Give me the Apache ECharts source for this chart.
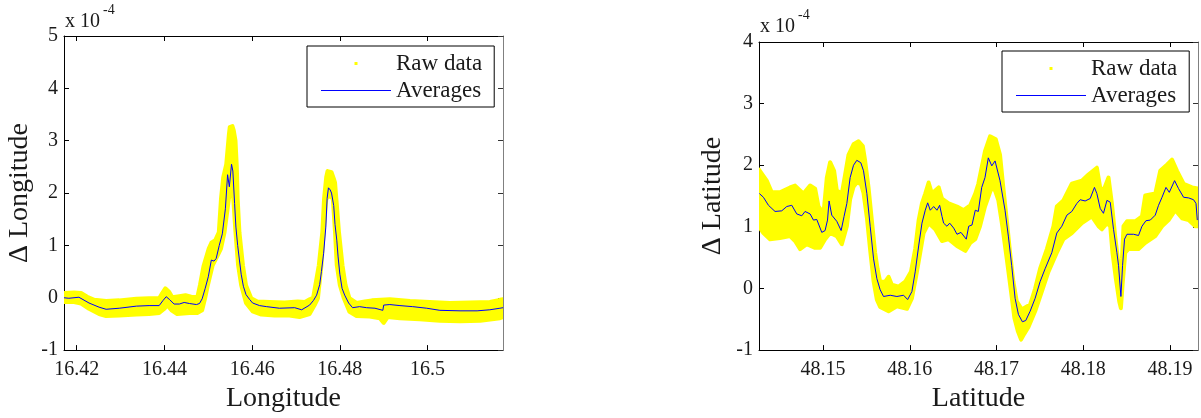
<!DOCTYPE html>
<html>
<head>
<meta charset="utf-8">
<script src="https://cdn.jsdelivr.net/npm/echarts@6/dist/echarts.min.js"></script>
<style>
  html, body { margin: 0; padding: 0; background: #fff; }
  #chart { width: 1201px; height: 418px; }
</style>
</head>
<body>
<div id="chart"></div>
<script>
// ---- Longitude panel (values of the deltas in units of 1e-4) ----
const lonTicks = [16.42, 16.44, 16.46, 16.48, 16.5];
const lonRange = [16.4171, 16.5172];
const lonDeltaRange = [-1, 5];

// running average of the longitude deltas: [longitude, delta]
const lonAverages = [
  [16.4171, 0.00], [16.4182, -0.01], [16.4205, 0.01], [16.4228, -0.10], [16.4251, -0.18],
  [16.4267, -0.22], [16.4297, -0.20], [16.4336, -0.16], [16.4365, -0.15], [16.4388, -0.15],
  [16.4397, -0.05], [16.4404, 0.02], [16.4411, -0.03], [16.4422, -0.12], [16.4434, -0.12],
  [16.4445, -0.09], [16.4457, -0.11], [16.4473, -0.13], [16.4480, -0.11], [16.4486, -0.02],
  [16.4493, 0.18], [16.4500, 0.40], [16.4507, 0.72], [16.4513, 0.70], [16.4518, 0.75],
  [16.4525, 1.00], [16.4532, 1.22], [16.4539, 1.70], [16.4544, 2.35], [16.4548, 2.12],
  [16.4553, 2.55], [16.4556, 2.42], [16.4560, 1.80], [16.4563, 1.35], [16.4567, 1.00],
  [16.4571, 0.72], [16.4575, 0.45], [16.4580, 0.22], [16.4586, 0.06], [16.4594, -0.03],
  [16.4601, -0.10], [16.4617, -0.15], [16.4633, -0.17], [16.4662, -0.20], [16.4697, -0.19],
  [16.4713, -0.23], [16.4731, -0.14], [16.4740, -0.05], [16.4747, 0.05], [16.4754, 0.25],
  [16.4758, 0.50], [16.4763, 0.85], [16.4768, 1.35], [16.4771, 1.90], [16.4774, 2.10],
  [16.4778, 2.06], [16.4781, 2.00], [16.4786, 1.76], [16.4789, 1.40], [16.4793, 1.10],
  [16.4796, 0.78], [16.4800, 0.45], [16.4805, 0.18], [16.4811, 0.05], [16.4820, -0.10],
  [16.4829, -0.19], [16.4845, -0.17], [16.4861, -0.19], [16.4880, -0.20], [16.4898, -0.24],
  [16.4900, -0.14], [16.4914, -0.13], [16.4937, -0.15], [16.4966, -0.17], [16.4998, -0.20],
  [16.5028, -0.24], [16.5074, -0.25], [16.5113, -0.25], [16.5142, -0.23], [16.5165, -0.20],
  [16.5172, -0.19]
];

// upper edge of the raw-data cloud
const lonRawUpper = [
  [16.4171, 0.09], [16.4194, 0.10], [16.4210, 0.09], [16.4224, 0.02], [16.4240, -0.04],
  [16.4267, -0.06], [16.4297, -0.05], [16.4336, -0.02], [16.4365, -0.01], [16.4388, -0.01],
  [16.4395, 0.09], [16.4402, 0.18], [16.4411, 0.11], [16.4418, 0.01], [16.4434, 0.03],
  [16.4448, 0.05], [16.4461, 0.02], [16.4475, 0.01], [16.4481, 0.24], [16.4489, 0.60],
  [16.4501, 0.94], [16.4507, 1.05], [16.4516, 1.10], [16.4524, 1.25], [16.4529, 1.89],
  [16.4534, 2.30], [16.4541, 2.55], [16.4547, 3.12], [16.4549, 3.26], [16.4555, 3.28],
  [16.4558, 3.20], [16.4562, 3.00], [16.4565, 2.50], [16.4567, 1.89], [16.4571, 1.25],
  [16.4579, 0.62], [16.4586, 0.24], [16.4598, -0.01], [16.4612, -0.07], [16.4640, -0.08],
  [16.4674, -0.09], [16.4704, -0.07], [16.4720, -0.08], [16.4731, -0.03], [16.4739, 0.00],
  [16.4752, 0.62], [16.4760, 1.25], [16.4764, 1.89], [16.4769, 2.31], [16.4772, 2.42],
  [16.4781, 2.40], [16.4786, 2.28], [16.4789, 2.20], [16.4792, 1.89], [16.4798, 1.25],
  [16.4806, 0.62], [16.4813, 0.24], [16.4822, -0.01], [16.4838, -0.10], [16.4857, -0.07],
  [16.4873, -0.05], [16.4914, -0.03], [16.4960, -0.06], [16.5005, -0.08], [16.5051, -0.10],
  [16.5097, -0.09], [16.5142, -0.08], [16.5165, -0.04], [16.5172, -0.03]
];

// lower edge of the raw-data cloud
const lonRawLower = [
  [16.4171, -0.08], [16.4194, -0.08], [16.4210, -0.11], [16.4228, -0.21], [16.4251, -0.31],
  [16.4267, -0.35], [16.4297, -0.34], [16.4336, -0.32], [16.4365, -0.31], [16.4388, -0.29],
  [16.4400, -0.21], [16.4406, -0.14], [16.4416, -0.24], [16.4429, -0.31], [16.4457, -0.29],
  [16.4475, -0.29], [16.4486, -0.24], [16.4493, 0.00], [16.4499, 0.24], [16.4510, 0.62],
  [16.4521, 0.80], [16.4529, 0.94], [16.4537, 1.25], [16.4547, 1.89], [16.4550, 2.00],
  [16.4555, 2.10], [16.4557, 1.89], [16.4562, 1.25], [16.4568, 0.62], [16.4575, 0.24],
  [16.4586, -0.10], [16.4601, -0.26], [16.4621, -0.32], [16.4651, -0.34], [16.4685, -0.34],
  [16.4708, -0.37], [16.4731, -0.31], [16.4742, -0.15], [16.4750, -0.01], [16.4758, 0.62],
  [16.4763, 1.25], [16.4769, 1.89], [16.4777, 1.95], [16.4784, 1.89], [16.4789, 1.25],
  [16.4793, 0.62], [16.4800, 0.24], [16.4809, -0.01], [16.4822, -0.27], [16.4838, -0.35],
  [16.4868, -0.36], [16.4891, -0.39], [16.4900, -0.48], [16.4909, -0.37], [16.4937, -0.39],
  [16.4982, -0.41], [16.5028, -0.44], [16.5074, -0.45], [16.5120, -0.44], [16.5165, -0.39],
  [16.5172, -0.37]
];

// ---- Latitude panel ----
const latTicks = [48.15, 48.16, 48.17, 48.18, 48.19];
const latRange = [48.14261, 48.19323];
const latDeltaRange = [-1, 4];

const latAverages = [
  [48.14266, 1.54], [48.14312, 1.48], [48.14370, 1.35], [48.14446, 1.25], [48.14523, 1.26],
  [48.14581, 1.33], [48.14639, 1.35], [48.14696, 1.21], [48.14754, 1.18], [48.14792, 1.25],
  [48.14850, 1.21], [48.14889, 1.11], [48.14927, 1.12], [48.14985, 0.91], [48.15023, 0.94],
  [48.15051, 1.11], [48.15069, 1.42], [48.15100, 1.19], [48.15158, 1.09], [48.15208, 0.94],
  [48.15242, 1.17], [48.15274, 1.38], [48.15312, 1.80], [48.15351, 2.00], [48.15389, 2.08],
  [48.15435, 2.04], [48.15466, 1.91], [48.15505, 1.54], [48.15543, 1.01], [48.15582, 0.48],
  [48.15620, 0.16], [48.15658, -0.02], [48.15697, -0.13], [48.15774, -0.11], [48.15851, -0.13],
  [48.15928, -0.11], [48.15975, -0.18], [48.16024, -0.05], [48.16062, 0.27], [48.16102, 0.69],
  [48.16140, 1.06], [48.16178, 1.27], [48.16206, 1.39], [48.16236, 1.27], [48.16275, 1.33],
  [48.16313, 1.27], [48.16344, 1.35], [48.16371, 1.17], [48.16390, 1.06], [48.16428, 1.01],
  [48.16460, 1.06], [48.16506, 0.98], [48.16544, 0.88], [48.16590, 0.91], [48.16651, 0.80],
  [48.16679, 1.01], [48.16717, 1.03], [48.16755, 1.27], [48.16790, 1.25], [48.16829, 1.64],
  [48.16867, 1.80], [48.16905, 2.12], [48.16945, 1.99], [48.16983, 2.07], [48.17040, 1.75],
  [48.17098, 1.27], [48.17136, 0.85], [48.17175, 0.37], [48.17214, -0.16], [48.17252, -0.42],
  [48.17298, -0.54], [48.17337, -0.52], [48.17387, -0.37], [48.17445, -0.16], [48.17502, 0.11],
  [48.17560, 0.32], [48.17637, 0.58], [48.17695, 0.90], [48.17753, 1.01], [48.17811, 1.19],
  [48.17868, 1.25], [48.17926, 1.38], [48.17964, 1.44], [48.18022, 1.42], [48.18080, 1.46],
  [48.18129, 1.64], [48.18157, 1.54], [48.18195, 1.30], [48.18233, 1.22], [48.18273, 1.43],
  [48.18311, 1.40], [48.18349, 0.96], [48.18388, 0.58], [48.18407, 0.37], [48.18434, -0.13],
  [48.18453, 0.37], [48.18476, 0.80], [48.18504, 0.88], [48.18580, 0.88], [48.18637, 0.86],
  [48.18677, 1.01], [48.18723, 1.10], [48.18773, 1.11], [48.18830, 1.19], [48.18868, 1.35],
  [48.18908, 1.48], [48.18954, 1.64], [48.18992, 1.56], [48.19053, 1.75], [48.19099, 1.62],
  [48.19157, 1.48], [48.19215, 1.47], [48.19272, 1.44], [48.19300, 1.38], [48.19315, 1.11]
];

const latRawUpper = [
  [48.14261, 1.93], [48.14350, 1.75], [48.14408, 1.56], [48.14503, 1.56], [48.14619, 1.64],
  [48.14677, 1.67], [48.14774, 1.54], [48.14850, 1.67], [48.14908, 1.62], [48.14947, 1.33],
  [48.15005, 1.22], [48.15043, 1.80], [48.15081, 2.05], [48.15127, 1.91], [48.15158, 1.59],
  [48.15216, 1.54], [48.15254, 1.85], [48.15293, 2.17], [48.15351, 2.34], [48.15409, 2.39],
  [48.15458, 2.31], [48.15485, 2.07], [48.15524, 1.64], [48.15562, 1.11], [48.15600, 0.58],
  [48.15628, 0.32], [48.15658, 0.11], [48.15716, 0.11], [48.15755, 0.19], [48.15793, 0.06],
  [48.15871, 0.03], [48.15947, 0.11], [48.16013, 0.27], [48.16062, 0.64], [48.16102, 1.11],
  [48.16140, 1.38], [48.16178, 1.54], [48.16217, 1.72], [48.16255, 1.54], [48.16333, 1.64],
  [48.16371, 1.46], [48.16448, 1.38], [48.16544, 1.33], [48.16621, 1.27], [48.16697, 1.35],
  [48.16755, 1.54], [48.16790, 1.70], [48.16867, 2.23], [48.16925, 2.47], [48.16991, 2.42],
  [48.17040, 2.17], [48.17078, 1.64], [48.17118, 1.11], [48.17156, 0.58], [48.17194, 0.11],
  [48.17233, -0.21], [48.17291, -0.34], [48.17387, -0.26], [48.17445, 0.00], [48.17502, 0.32],
  [48.17580, 0.64], [48.17656, 1.01], [48.17695, 1.33], [48.17771, 1.43], [48.17868, 1.70],
  [48.17984, 1.75], [48.18060, 1.85], [48.18157, 1.96], [48.18195, 1.64], [48.18233, 1.59],
  [48.18291, 1.80], [48.18330, 1.38], [48.18368, 0.85], [48.18399, 0.48], [48.18426, 0.11],
  [48.18446, 0.48], [48.18464, 1.01], [48.18504, 1.09], [48.18599, 1.09], [48.18677, 1.17],
  [48.18715, 1.51], [48.18830, 1.54], [48.18888, 1.91], [48.18965, 2.01], [48.19023, 2.09],
  [48.19081, 1.91], [48.19157, 1.70], [48.19254, 1.64], [48.19323, 1.62]
];

const latRawLower = [
  [48.14261, 1.00], [48.14312, 0.90], [48.14388, 0.80], [48.14503, 0.82], [48.14619, 0.85],
  [48.14677, 0.77], [48.14734, 0.64], [48.14812, 0.72], [48.14908, 0.66], [48.14965, 0.66],
  [48.15023, 0.80], [48.15081, 0.90], [48.15158, 0.85], [48.15216, 0.72], [48.15274, 1.01],
  [48.15312, 1.45], [48.15351, 1.65], [48.15389, 1.72], [48.15435, 1.70], [48.15466, 1.55],
  [48.15505, 1.15], [48.15543, 0.62], [48.15582, 0.12], [48.15620, -0.18], [48.15658, -0.30],
  [48.15755, -0.37], [48.15851, -0.29], [48.15967, -0.33], [48.16024, -0.16], [48.16074, 0.21],
  [48.16120, 0.58], [48.16159, 0.90], [48.16217, 1.06], [48.16293, 0.96], [48.16371, 0.77],
  [48.16448, 0.80], [48.16544, 0.69], [48.16640, 0.61], [48.16697, 0.74], [48.16755, 0.80],
  [48.16809, 1.01], [48.16867, 1.33], [48.16945, 1.64], [48.16983, 1.59], [48.17021, 1.43],
  [48.17067, 1.01], [48.17118, 0.48], [48.17167, -0.05], [48.17206, -0.48], [48.17245, -0.69],
  [48.17283, -0.83], [48.17318, -0.74], [48.17367, -0.63], [48.17445, -0.37], [48.17522, -0.05],
  [48.17598, 0.27], [48.17695, 0.58], [48.17771, 0.80], [48.17868, 0.90], [48.17984, 1.06],
  [48.18099, 1.17], [48.18176, 1.01], [48.18215, 0.96], [48.18273, 1.06], [48.18311, 1.01],
  [48.18337, 0.58], [48.18376, 0.16], [48.18415, -0.21], [48.18434, -0.32], [48.18453, 0.06],
  [48.18484, 0.58], [48.18522, 0.64], [48.18637, 0.64], [48.18715, 0.74], [48.18830, 0.85],
  [48.18908, 1.01], [48.18984, 1.11], [48.19061, 1.27], [48.19139, 1.14], [48.19215, 1.11],
  [48.19292, 1.01], [48.19323, 1.01]
];

// ---- styling ----
const SERIF = "'Liberation Serif', 'Times New Roman', serif";
const RAW_COLOR = '#ffff00';
const AVG_COLOR = '#0000ff';
const TEXT_COLOR = '#1a1a1a';
// legend glyphs: a small dot, and a thin line, each inside a 70x8 icon box
const RAW_ICON = 'path://M0,0M70,8M33.5,2.5L36.5,2.5L36.5,5.5L33.5,5.5Z';
const AVG_ICON = 'path://M0,0M70,8M0,3.5L70,3.5L70,4.5L0,4.5Z';

const tickFmt = v => String(+(+v).toFixed(2));

function bottomAxis(grid, range, ticks, name) {
  return {
    type: 'value', gridIndex: grid, position: 'bottom',
    min: range[0], max: range[1],
    name: name, nameLocation: 'middle', nameGap: 32,
    nameTextStyle: { fontFamily: SERIF, fontSize: 28, color: TEXT_COLOR },
    axisLine: { show: true, onZero: false, lineStyle: { color: '#000', width: 1 } },
    axisTick: { show: true, inside: true, length: 5, customValues: ticks, lineStyle: { color: '#000' } },
    axisLabel: { show: true, customValues: ticks, formatter: tickFmt, margin: 10,
                 fontFamily: SERIF, fontSize: 20, color: TEXT_COLOR },
    splitLine: { show: false }
  };
}
function topAxis(grid, range, ticks) {
  return {
    type: 'value', gridIndex: grid, position: 'top',
    min: range[0], max: range[1],
    axisLine: { show: true, onZero: false, lineStyle: { color: '#000', width: 1 } },
    axisTick: { show: true, inside: true, length: 5, customValues: ticks, lineStyle: { color: '#000' } },
    axisLabel: { show: false },
    splitLine: { show: false }
  };
}
function leftAxis(grid, range, name, gap) {
  return {
    type: 'value', gridIndex: grid, position: 'left',
    min: range[0], max: range[1], interval: 1,
    name: name, nameLocation: 'middle', nameGap: gap, nameRotate: 90,
    nameTextStyle: { fontFamily: SERIF, fontSize: 28, color: TEXT_COLOR },
    axisLine: { show: true, onZero: false, lineStyle: { color: '#000', width: 1 } },
    axisTick: { show: true, inside: true, length: 5, lineStyle: { color: '#000' } },
    axisLabel: { show: true, margin: 6, fontFamily: SERIF, fontSize: 20, color: TEXT_COLOR },
    splitLine: { show: false }
  };
}
function rightAxis(grid, range) {
  return {
    type: 'value', gridIndex: grid, position: 'right',
    min: range[0], max: range[1], interval: 1,
    axisLine: { show: true, onZero: false, lineStyle: { color: '#808080', width: 1 } },
    axisTick: { show: true, inside: true, length: 5, lineStyle: { color: '#333' } },
    axisLabel: { show: false },
    splitLine: { show: false }
  };
}

// filled cloud of raw samples between its lower and upper edges
function rawCloud(upper, lower, xi, yi) {
  return {
    type: 'custom', name: 'Raw data', xAxisIndex: xi, yAxisIndex: yi,
    clip: true, z: 2, silent: true,
    itemStyle: { color: RAW_COLOR },
    data: [upper[0]],
    encode: { x: 0, y: 1 },
    renderItem: (params, api) => {
      const pts = upper.map(p => api.coord(p))
        .concat(lower.slice().reverse().map(p => api.coord(p)));
      return {
        type: 'polygon',
        shape: { points: pts },
        style: { fill: RAW_COLOR, stroke: RAW_COLOR, lineWidth: 4, lineJoin: 'round' }
      };
    }
  };
}
function averageLine(data, xi, yi) {
  return {
    type: 'line', name: 'Averages', xAxisIndex: xi, yAxisIndex: yi,
    data: data, symbol: 'none', showSymbol: false, z: 3, silent: true,
    itemStyle: { color: AVG_COLOR },
    lineStyle: { color: AVG_COLOR, width: 1 }
  };
}
function legendBox(left, top) {
  return {
    left: left, top: top, orient: 'vertical',
    padding: [6, 12, 5, 14], itemGap: 4, itemWidth: 70, itemHeight: 8,
    borderColor: '#000', borderWidth: 1, backgroundColor: '#fff',
    selectedMode: false,
    textStyle: { fontFamily: SERIF, fontSize: 23, color: TEXT_COLOR },
    data: [{ name: 'Raw data', icon: RAW_ICON }, { name: 'Averages', icon: AVG_ICON }]
  };
}
function exponent(x, y) {
  return [
    { type: 'text', left: x, top: y, style: { text: 'x 10', font: '20px ' + SERIF, fill: TEXT_COLOR } },
    { type: 'text', left: x + 38, top: y - 9, style: { text: '-4', font: '14px ' + SERIF, fill: TEXT_COLOR } }
  ];
}

const chart = echarts.init(document.getElementById('chart'), null, { renderer: 'canvas' });
chart.setOption({
  animation: false,
  backgroundColor: '#fff',
  grid: [
    { left: 64, top: 36, width: 439, height: 316 },
    { left: 759, top: 42, width: 439, height: 315 }
  ],
  xAxis: [
    bottomAxis(0, lonRange, lonTicks, 'Longitude'),
    topAxis(0, lonRange, lonTicks),
    bottomAxis(1, latRange, latTicks, 'Latitude'),
    topAxis(1, latRange, latTicks)
  ],
  yAxis: [
    leftAxis(0, lonDeltaRange, 'Δ Longitude', 30),
    rightAxis(0, lonDeltaRange),
    leftAxis(1, latDeltaRange, 'Δ Latitude', 32),
    rightAxis(1, latDeltaRange)
  ],
  legend: [legendBox(307, 46), legendBox(1002, 51)],
  graphic: exponent(65, 12).concat(exponent(760, 17)),
  series: [
    rawCloud(lonRawUpper, lonRawLower, 0, 0),
    averageLine(lonAverages, 0, 0),
    rawCloud(latRawUpper, latRawLower, 2, 2),
    averageLine(latAverages, 2, 2)
  ]
});
</script>
</body>
</html>
